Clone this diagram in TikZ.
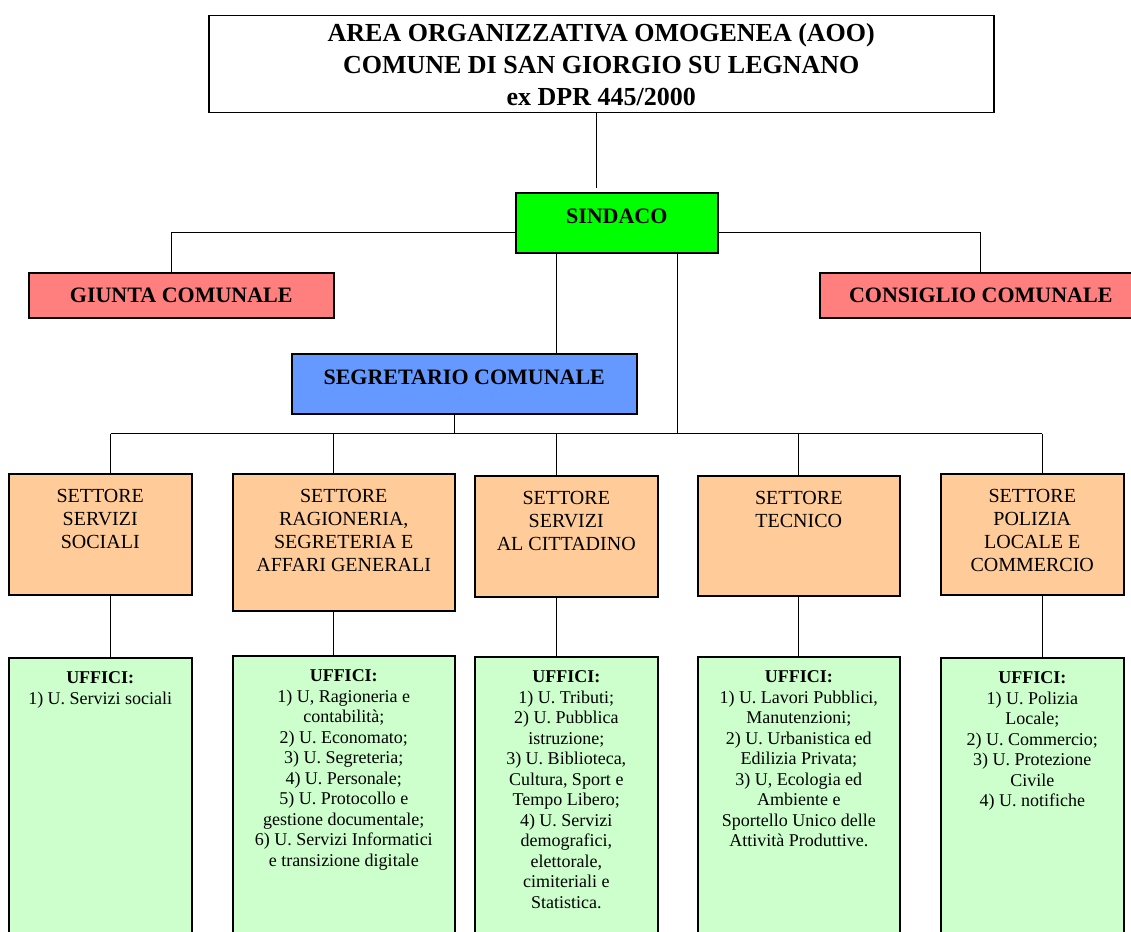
\documentclass[tikz,border=0pt]{standalone}
\usepackage{fontspec}
\setmainfont{Liberation Serif}
\definecolor{sindacogreen}{HTML}{00FF00}
\definecolor{giuntared}{HTML}{FF7F7F}
\definecolor{segrblue}{HTML}{6699FF}
\definecolor{settpeach}{HTML}{FFCC99}
\definecolor{uffgreen}{HTML}{CCFFCC}
\newcommand{\topfill}[4]{\parbox[t][#2][t]{#1}{\centering\vspace*{#3}\strut#4}}
\tikzset{
  box/.style={draw, line width=1.5pt, inner sep=0pt, anchor=north west},
  head/.style={box, align=center, font=\fontsize{22}{25.3}\selectfont\bfseries},
  sett/.style={box, fill=settpeach, font=\fontsize{20}{23}\selectfont},
  uff/.style={box, fill=uffgreen, font=\fontsize{18}{20.5}\selectfont},
  link/.style={line width=1.2pt},
}
\begin{document}
\begin{tikzpicture}[x=1pt,y=-1pt]
\useasboundingbox (0,0) rectangle (1131,931);
\node [box, minimum width=785pt, minimum height=97pt, align=center, font=\fontsize{26}{32}\selectfont\bfseries] (aoo) at (208,15) {AREA ORGANIZZATIVA OMOGENEA (AOO)\\COMUNE DI SAN GIORGIO SU LEGNANO\\ex DPR 445/2000};
\node [head, fill=sindacogreen] (sindaco) at (515,192) {\topfill{202pt}{60pt}{12.6pt}{SINDACO}};
\node [head, fill=giuntared, minimum width=305pt, minimum height=45pt] (giunta) at (28,272) {GIUNTA COMUNALE};
\node [head, fill=giuntared, minimum width=322pt, minimum height=45pt] (consiglio) at (819,272) {CONSIGLIO COMUNALE};
\node [head, fill=segrblue] (segretario) at (291,353) {\topfill{345pt}{60pt}{12.6pt}{SEGRETARIO COMUNALE}};
\coordinate (bus) at (0,433.5);

\node [sett] (sett1) at (8,473) {\topfill{183pt}{121pt}{12.5pt}{SETTORE\\SERVIZI\\SOCIALI}};
\node [sett] (sett2) at (232,473) {\topfill{222pt}{137pt}{12.5pt}{SETTORE\\RAGIONERIA,\\SEGRETERIA E\\AFFARI GENERALI}};
\node [sett] (sett3) at (474,475) {\topfill{183pt}{121pt}{12.5pt}{SETTORE\\SERVIZI\\AL CITTADINO}};
\node [sett] (sett4) at (697,475) {\topfill{202pt}{120pt}{12.5pt}{SETTORE\\TECNICO}};
\node [sett] (sett5) at (940,473) {\topfill{183pt}{121pt}{12.5pt}{SETTORE\\POLIZIA\\LOCALE E\\COMMERCIO}};

\node [uff] (uff1) at (8,657) {\topfill{183pt}{300pt}{11.6pt}{\textbf{UFFICI:}\\1) U. Servizi sociali}};
\node [uff] (uff2) at (232,655) {\topfill{222pt}{300pt}{11.6pt}{\textbf{UFFICI:}\\1) U, Ragioneria e\\contabilità;\\2) U. Economato;\\3) U. Segreteria;\\4) U. Personale;\\5) U. Protocollo e\\gestione documentale;\\6) U. Servizi Informatici\\e transizione digitale}};
\node [uff] (uff3) at (474,656) {\topfill{183pt}{300pt}{11.6pt}{\textbf{UFFICI:}\\1) U. Tributi;\\2) U. Pubblica\\istruzione;\\3) U. Biblioteca,\\Cultura, Sport e\\Tempo Libero;\\4) U. Servizi\\demografici,\\elettorale,\\cimiteriali e\\Statistica.}};
\node [uff] (uff4) at (697,656) {\topfill{202pt}{300pt}{11.6pt}{\textbf{UFFICI:}\\1) U. Lavori Pubblici,\\Manutenzioni;\\2) U. Urbanistica ed\\Edilizia Privata;\\3) U, Ecologia ed\\Ambiente e\\Sportello Unico delle\\Attività Produttive.}};
\node [uff] (uff5) at (940,657) {\topfill{183pt}{300pt}{11.6pt}{\textbf{UFFICI:}\\1) U. Polizia\\Locale;\\2) U. Commercio;\\3) U. Protezione\\Civile\\4) U. notifiche}};

\draw [link, shorten >=4pt] ([xshift=-20pt]sindaco.north |- aoo.south) -- ([xshift=-20pt]sindaco.north);
\draw [link] ([yshift=-10pt]sindaco.west) -| ([xshift=-9.5pt]giunta.north);
\draw [link] ([yshift=-10pt]sindaco.east) -| (consiglio.north);
\draw [link] ([xshift=-60pt]sindaco.south) -- ([xshift=-60pt]sindaco.south |- segretario.north);
\draw [link] ([xshift=61pt]sindaco.south) -- ([xshift=61pt]sindaco.south |- bus);
\draw [link] ([xshift=-9.5pt]segretario.south) -- ([xshift=-9.5pt]segretario.south |- bus);
\draw [link] ([xshift=10.5pt]sett1.north |- bus) -- ([xshift=10pt]sett5.north |- bus);
\draw [link] ([xshift=10.5pt]sett1.north |- bus) -- ([xshift=10.5pt]sett1.north);
\draw [link] ([xshift=-10pt]sett2.north |- bus) -- ([xshift=-10pt]sett2.north);
\draw [link] ([xshift=-9.5pt]sett3.north |- bus) -- ([xshift=-9.5pt]sett3.north);
\draw [link] (sett4.north |- bus) -- (sett4.north);
\draw [link] ([xshift=10pt]sett5.north |- bus) -- ([xshift=10pt]sett5.north);
\draw [link] ([xshift=10.5pt]sett1.south) -- ([xshift=10.5pt]sett1.south |- uff1.north);
\draw [link] ([xshift=-10pt]sett2.south) -- ([xshift=-10pt]sett2.south |- uff2.north);
\draw [link] ([xshift=-9.5pt]sett3.south) -- ([xshift=-9.5pt]sett3.south |- uff3.north);
\draw [link] (sett4.south) -- (sett4.south |- uff4.north);
\draw [link] ([xshift=10pt]sett5.south) -- ([xshift=10pt]sett5.south |- uff5.north);
\end{tikzpicture}
\end{document}
